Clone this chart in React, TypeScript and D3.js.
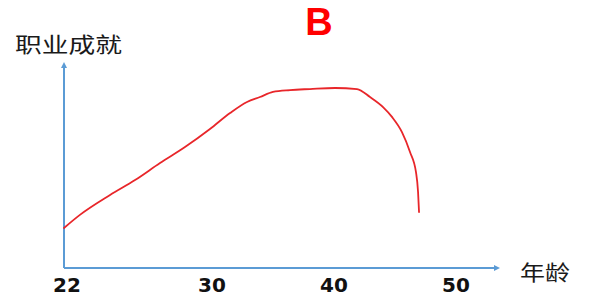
import React from "react";
import * as d3 from "d3";

const tickAges = [22, 30, 40, 50];
const ages = [22.0, 22.86, 24.49, 25.84, 27.19, 28.54, 29.89, 31.48, 32.87, 33.93, 35.0, 36.39, 38.03, 40.08, 41.89, 42.95, 44.02, 44.75, 45.57, 46.23, 46.72, 46.89, 46.97];
const achievement = [19.5, 25.9, 35.6, 42.9, 51.2, 59.0, 67.8, 75.6, 81.0, 83.4, 85.9, 86.8, 87.3, 87.8, 87.3, 83.4, 78.5, 73.7, 66.3, 56.6, 46.8, 37.1, 27.3];
const title = "B";
const yLabel = "职业成就";
const xLabel = "年龄";

const W = 606;
const H = 302;

export default function App() {
  const x = d3.scaleLinear().domain(tickAges).range([64, 212, 334, 456]);
  const y = d3.scaleLinear().domain([0, 100]).range([268, 63]);
  const pts: [number, number][] = ages.map((a, i) => [a, achievement[i]]);
  const line = d3
    .line<[number, number]>()
    .x((d) => x(d[0]))
    .y((d) => y(d[1]))
    .curve(d3.curveMonotoneX);
  const axisColor = "#5B9BD5";
  const x0 = x(22);
  const y0 = y(0);
  const xEnd = 500;
  const yTop = y(100);
  return (
    <svg width={W} height={H} style={{ position: "absolute", left: 0, top: 0, background: "#fff" }}>
      <text x={319} y={35} textAnchor="middle" fill="#FF0000" fontFamily="Liberation Sans, Arial, sans-serif" fontWeight="bold" fontSize={38}>
        {title}
      </text>
      <text x={15} y={52} fill="#1a1a1a" fontFamily="Noto Sans CJK SC" fontSize={21} textLength={107} lengthAdjust="spacingAndGlyphs">
        {yLabel}
      </text>
      <text x={520} y={280} fill="#1a1a1a" fontFamily="Noto Sans CJK SC" fontSize={21} textLength={50} lengthAdjust="spacingAndGlyphs">
        {xLabel}
      </text>
      <line x1={x0} y1={y0} x2={x0} y2={yTop + 4} stroke={axisColor} strokeWidth={2} />
      <line x1={x0} y1={y0} x2={xEnd - 4} y2={y0} stroke={axisColor} strokeWidth={2} />
      <path d={`M${x0 - 3},${yTop + 5} L${x0},${yTop - 1} L${x0 + 3},${yTop + 5} Z`} fill={axisColor} />
      <path d={`M${xEnd - 6},${y0 - 3} L${xEnd},${y0} L${xEnd - 6},${y0 + 3} Z`} fill={axisColor} />
      <path d={line(pts) || ""} fill="none" stroke="#E8262A" strokeWidth={1.8} strokeLinejoin="round" strokeLinecap="round" />
      {tickAges.map((t) => (
        <text key={t} x={x(t) + (t === 22 ? 3 : 0)} y={292} textAnchor="middle" fill="#111" fontFamily="DejaVu Sans" fontWeight="bold" fontSize={20}>
          {t}
        </text>
      ))}
    </svg>
  );
}
